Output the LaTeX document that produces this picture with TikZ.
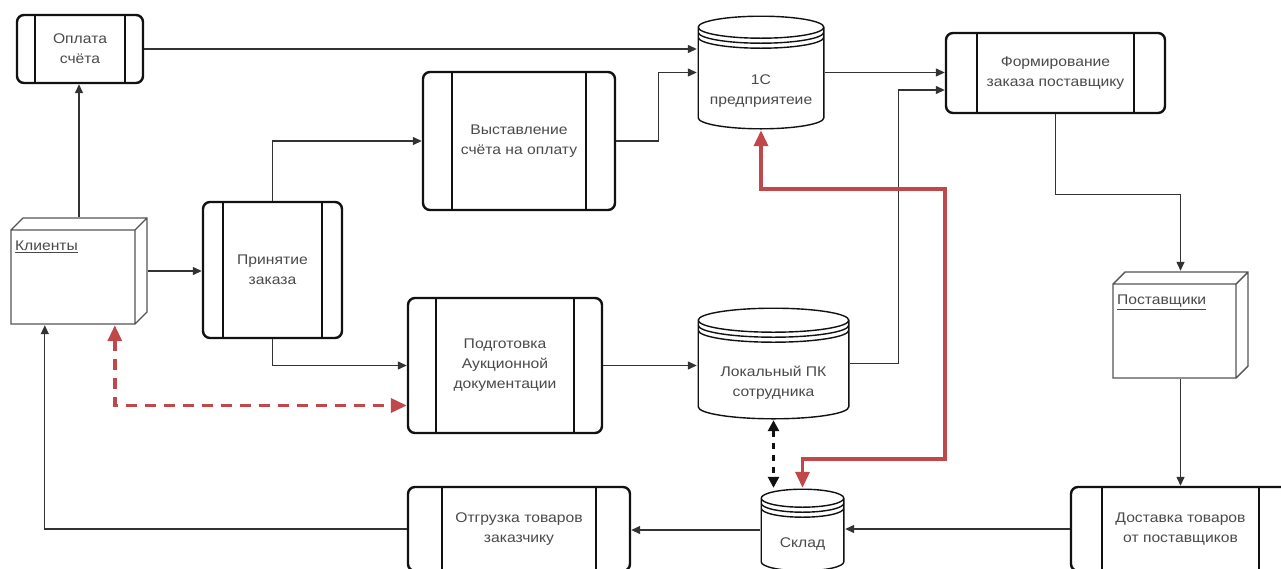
\documentclass[tikz,border=0pt]{standalone}
\usepackage{fontspec}
\newfontfamily\lblfont{Liberation Sans}[FakeStretch=1.12]
\usetikzlibrary{arrows.meta,calc}
\definecolor{ink}{HTML}{111111}
\definecolor{wire}{HTML}{333333}
\definecolor{txt}{HTML}{4A4A4A}
\definecolor{redline}{HTML}{C0474A}
\definecolor{cubeline}{HTML}{555555}
\tikzset{
  lbl/.style={text=txt, align=center, font=\lblfont\fontsize{14}{20}\selectfont},
  % process box: rounded frame with two inner vertical bars
  proc/.style={draw=ink, line width=2.4pt, rounded corners=7pt, fill=white,
    inner sep=0pt, lbl,
    path picture={\draw[ink, line width=2.4pt]
      ([xshift=#1]path picture bounding box.north west) -- ([xshift=#1]path picture bounding box.south west)
      ([xshift=-#1]path picture bounding box.north east) -- ([xshift=-#1]path picture bounding box.south east);}},
  % data store: cylinder with two extra rings under the lid
  store/.style={rectangle, inner sep=0pt,
    path picture={\draw[ink, line width=1.4pt]
      let \p1=(path picture bounding box.north west), \p2=(path picture bounding box.south east),
          \n1={(\x2-\x1)/2-1.2} in
      (\x1+1.2pt,\y1-1.2pt-#1pt) -- (\x1+1.2pt,\y2+1.2pt+#1pt)
        arc[start angle=180, end angle=360, x radius=\n1, y radius=#1pt]
        -- (\x2-1.2pt,\y1-1.2pt-#1pt)
        arc[start angle=0, end angle=180, x radius=\n1, y radius=#1pt]
      (\x1+1.2pt,\y1-1.2pt-#1pt) arc[start angle=180, end angle=360, x radius=\n1, y radius=#1pt]
      (\x1+1.2pt,\y1-6.2pt-#1pt) arc[start angle=180, end angle=360, x radius=\n1, y radius=#1pt]
      (\x1+1.2pt,\y1-11.2pt-#1pt) arc[start angle=180, end angle=360, x radius=\n1, y radius=#1pt];}},
  % 3D box for external parties
  cube/.style={rectangle, inner sep=0pt,
    path picture={\draw[cubeline, line width=1.4pt]
      let \p1=(path picture bounding box.north west), \p2=(path picture bounding box.south east) in
      (\x1+1pt,\y2+1pt) rectangle (\x2-13pt,\y1-13pt)
      (\x1+1pt,\y1-13pt) -- (\x1+13pt,\y1-1pt) -- (\x2-1pt,\y1-1pt) -- (\x2-1pt,\y2+13pt) -- (\x2-13pt,\y2+1pt)
      (\x2-13pt,\y1-13pt) -- (\x2-1pt,\y1-1pt);}},
  cubelbl/.style={lbl, anchor=base west, inner sep=0pt, xshift=5, yshift=-34},
  storelbl/.style={lbl, inner sep=0pt},
  flow/.style={draw=wire, line width=1.3pt, -{Triangle[length=9pt,width=8pt]}},
  redflow/.style={draw=redline, line width=3.4pt, {Triangle[length=16pt,width=14pt]}-{Triangle[length=16pt,width=14pt]}},
  reddash/.style={redflow, dash pattern=on 11pt off 8pt},
  blackdash/.style={draw=ink, line width=2.6pt, dash pattern=on 6pt off 6pt,
    {Triangle[length=11pt,width=11pt]}-{Triangle[length=11pt,width=11pt]}}
}
\begin{document}
\begin{tikzpicture}[x=1pt,y=-1pt]
\clip (0,0) rectangle (1281,568);
\fill[white] (0,0) rectangle (1281,568);

% processes
\node[proc=18, minimum width=126, minimum height=68] (opl) at (80,49) {Оплата\\счёта};
\node[proc=20, minimum width=139, minimum height=136] (prin) at (272.5,270) {Принятие\\заказа};
\node[proc=29, minimum width=192, minimum height=138] (vyst) at (519,141) {Выставление\\счёта на оплату};
\node[proc=28, minimum width=194, minimum height=135] (podg) at (505,365.5) {Подготовка\\Аукционной\\документации};
\node[proc=31, minimum width=219, minimum height=80] (form) at (1055.5,73) {Формирование\\заказа поставщику};
\node[proc=34, minimum width=222, minimum height=84] (otgr) at (519,529) {Отгрузка товаров\\заказчику};
\node[proc=31, minimum width=219, minimum height=84] (dost) at (1180.5,529) {Доставка товаров\\от поставщиков};

% data stores
\node[store=11, minimum width=128, minimum height=115,
  label={[storelbl, yshift=-19]center:1С\\предприятеие}] (c1) at (761,72.5) {};
\node[store=12, minimum width=153, minimum height=113,
  label={[storelbl, yshift=-19]center:Локальный ПК\\сотрудника}] (lpk) at (773.5,363.5) {};
\node[store=9, minimum width=85, minimum height=84,
  label={[storelbl, yshift=-14]center:Склад}] (sklad) at (802.5,530) {};

% external parties
\node[cube, minimum width=138, minimum height=108,
  label={[cubelbl]north west:\underline{Клиенты}}] (kli) at (79,271) {};
\node[cube, minimum width=137, minimum height=108,
  label={[cubelbl]north west:\underline{Поставщики}}] (post) at (1180.5,325) {};

% flows
\draw[flow] (opl.east) -- (c1.west |- opl.east);
\draw[flow] (kli.north) -- (kli.north |- opl.south);
\draw[flow] (kli.east) -- (kli.east -| prin.west);
\draw[flow] (prin.north) |- (vyst.west);
\draw[flow] (vyst.east) -- ++(42,0) |- (c1.west);
\draw[flow] (c1.east) -- (c1.east -| form.west);
\draw[flow] (form.south) -- ++(0,80) -| (post.north);
\draw[flow] (post.south) -- (dost.north);
\draw[flow] (dost.west) -- (dost.west -| sklad.east);
\draw[flow] (sklad.west) -- (sklad.west -| otgr.east);
\draw[flow] (otgr.west) -| ($(kli.south west)+(35,0)$);
\draw[flow] (prin.south) |- (podg.west);
\draw[flow] (podg.east) -- (podg.east -| lpk.west);
\draw[flow] (lpk.east) -- ++(48,0) |- ([yshift=-17]form.west);

% information exchange
\draw[redflow] (c1.south) -- (c1.south |- 0,189) -- (945,189) -- (945,459)
  -- (sklad.north |- 0,459) -- (sklad.north);
\draw[reddash] ($(kli.south west)+(105,0)$) |- ([yshift=-40]podg.west);
\draw[blackdash] (lpk.south) -- (lpk.south |- sklad.north);
\end{tikzpicture}
\end{document}
